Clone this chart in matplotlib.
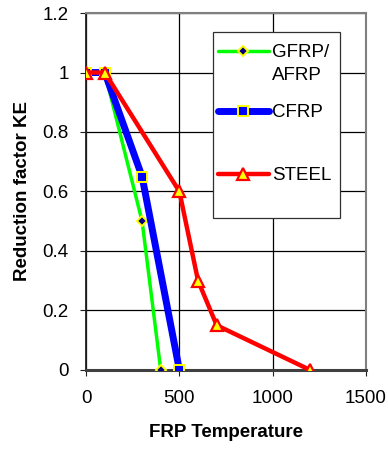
import matplotlib
matplotlib.use("Agg")
import matplotlib.pyplot as plt
from matplotlib.patches import Rectangle

plt.rcParams['font.family'] = ['Liberation Sans', 'DejaVu Sans']

gfrp_x = [0, 100, 300, 400]
gfrp_y = [1, 1, 0.5, 0]
cfrp_x = [0, 100, 300, 500]
cfrp_y = [1, 1, 0.65, 0]
steel_x = [0, 100, 500, 600, 700, 1200]
steel_y = [1, 1, 0.6, 0.3, 0.15, 0]

labels = ['GFRP/\nAFRP', 'CFRP', 'STEEL']

styles = [
    dict(color='#00ff00', lw=2.5, marker='D', ms=5.5, mfc='#000080', mec='#ffff00', mew=1.4),
    dict(color='#0000ff', lw=5, marker='s', ms=7, mfc='#0000ff', mec='#ffff00', mew=1.4),
    dict(color='#ff0000', lw=3.2, marker='^', ms=8, mfc='#ffff00', mec='#ff0000', mew=1.6),
]

fig = plt.figure(figsize=(3.88, 4.5), dpi=100)
ax = fig.add_axes([0.222, 0.178, 0.721, 0.793])

series = [(gfrp_x, gfrp_y), (cfrp_x, cfrp_y), (steel_x, steel_y)]
for i, ((xs, ys), st) in enumerate(zip(series, styles)):
    ax.plot(xs, ys, zorder=3 + i, **st)

ax.set_xlim(0, 1500)
ax.set_ylim(0, 1.2)
ax.set_xticks([0, 500, 1000, 1500])
ax.set_yticks([0, 0.2, 0.4, 0.6, 0.8, 1, 1.2])
ax.set_yticklabels(['0', '0.2', '0.4', '0.6', '0.8', '1', '1.2'])
ax.grid(True, color='black', lw=0.9)
ax.tick_params(labelsize=13.5, direction='out', length=4.5, color='#202020')
ax.tick_params(axis='x', pad=10)
ax.tick_params(axis='y', pad=8)
for s in ['top', 'right']:
    ax.spines[s].set_color('#808080')
    ax.spines[s].set_linewidth(1.5)
ax.spines['left'].set_color('#202020')
ax.spines['left'].set_linewidth(1.3)
ax.spines['bottom'].set_color('#404040')
ax.spines['bottom'].set_linewidth(2.2)

ax.set_xlabel('FRP Temperature', fontsize=13.5, fontweight='bold', labelpad=12)
ax.set_ylabel('Reduction factor KE', fontsize=13.5, fontweight='bold', labelpad=8)

# legend box drawn like the Excel one (handle sits at the first text line)
ax.add_patch(Rectangle((0.454, 0.426), 0.453, 0.521, transform=ax.transAxes,
                       facecolor='white', edgecolor='#303030', lw=0.9, zorder=10,
                       clip_on=False))
key_y = [0.894, 0.725, 0.549]
line_step = 0.064
for lab, st, y in zip(labels, styles, key_y):
    ax.plot([0.471, 0.654], [y, y], transform=ax.transAxes, color=st['color'],
            lw=st['lw'], solid_capstyle='round', zorder=11, clip_on=False)
    ax.plot([0.562], [y], transform=ax.transAxes, ls='none', marker=st['marker'],
            ms=st['ms'], mfc=st['mfc'], mec=st['mec'], mew=st['mew'], zorder=12,
            clip_on=False)
    for k, part in enumerate(lab.split('\n')):
        ax.text(0.665, y - 0.004 - k * line_step, part, transform=ax.transAxes,
                fontsize=13.5, va='center', ha='left', zorder=12)

fig.savefig('out.png', dpi=100)
